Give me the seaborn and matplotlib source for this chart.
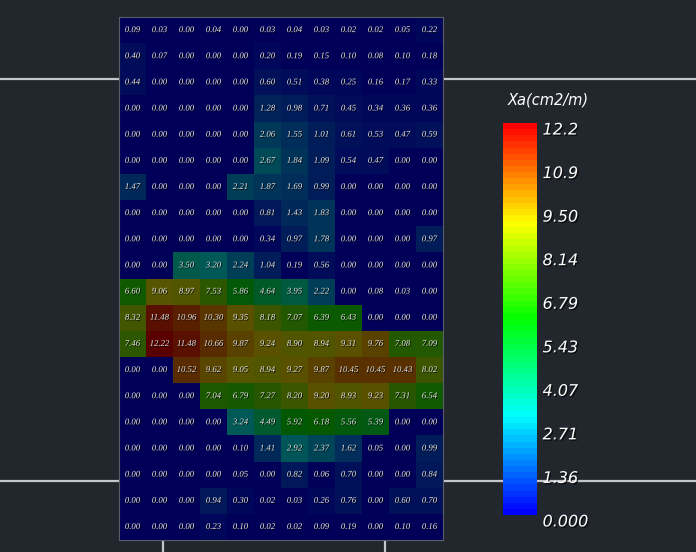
import numpy as np
import seaborn as sns
import matplotlib.pyplot as plt
import matplotlib.patheffects as pe
from matplotlib.colors import LinearSegmentedColormap, Normalize
from matplotlib.cm import ScalarMappable
from matplotlib.lines import Line2D

# Xa values, top row first, 12 columns
rows = [
    [0.09, 0.03, 0.00, 0.04, 0.00, 0.03, 0.04, 0.03, 0.02, 0.02, 0.05, 0.22],
    [0.40, 0.07, 0.00, 0.00, 0.00, 0.20, 0.19, 0.15, 0.10, 0.08, 0.10, 0.18],
    [0.44, 0.00, 0.00, 0.00, 0.00, 0.60, 0.51, 0.38, 0.25, 0.16, 0.17, 0.33],
    [0.00, 0.00, 0.00, 0.00, 0.00, 1.28, 0.98, 0.71, 0.45, 0.34, 0.36, 0.36],
    [0.00, 0.00, 0.00, 0.00, 0.00, 2.06, 1.55, 1.01, 0.61, 0.53, 0.47, 0.59],
    [0.00, 0.00, 0.00, 0.00, 0.00, 2.67, 1.84, 1.09, 0.54, 0.47, 0.00, 0.00],
    [1.47, 0.00, 0.00, 0.00, 2.21, 1.87, 1.69, 0.99, 0.00, 0.00, 0.00, 0.00],
    [0.00, 0.00, 0.00, 0.00, 0.00, 0.81, 1.43, 1.83, 0.00, 0.00, 0.00, 0.00],
    [0.00, 0.00, 0.00, 0.00, 0.00, 0.34, 0.97, 1.78, 0.00, 0.00, 0.00, 0.97],
    [0.00, 0.00, 3.50, 3.20, 2.24, 1.04, 0.19, 0.56, 0.00, 0.00, 0.00, 0.00],
    [6.60, 9.06, 8.97, 7.53, 5.86, 4.64, 3.95, 2.22, 0.00, 0.08, 0.03, 0.00],
    [8.32, 11.48, 10.96, 10.30, 9.35, 8.18, 7.07, 6.39, 6.43, 0.00, 0.00, 0.00],
    [7.46, 12.22, 11.48, 10.66, 9.87, 9.24, 8.90, 8.94, 9.31, 9.76, 7.08, 7.09],
    [0.00, 0.00, 10.52, 9.62, 9.05, 8.94, 9.27, 9.87, 10.45, 10.45, 10.43, 8.02],
    [0.00, 0.00, 0.00, 7.04, 6.79, 7.27, 8.20, 9.20, 8.93, 9.23, 7.31, 6.54],
    [0.00, 0.00, 0.00, 0.00, 3.24, 4.49, 5.92, 6.18, 5.56, 5.39, 0.00, 0.00],
    [0.00, 0.00, 0.00, 0.00, 0.10, 1.41, 2.92, 2.37, 1.62, 0.05, 0.00, 0.99],
    [0.00, 0.00, 0.00, 0.00, 0.05, 0.00, 0.82, 0.06, 0.70, 0.00, 0.00, 0.84],
    [0.00, 0.00, 0.00, 0.94, 0.30, 0.02, 0.03, 0.26, 0.76, 0.00, 0.60, 0.70],
    [0.00, 0.00, 0.00, 0.23, 0.10, 0.02, 0.02, 0.09, 0.19, 0.00, 0.10, 0.16],
]
vmin, vmax = 0.0, 12.215
cbar_ticks = [0.0, 1.357, 2.714, 4.072, 5.429, 6.786, 8.143, 9.501, 10.858, 12.215]
cbar_labels = ["0.000", "1.36", "2.71", "4.07", "5.43", "6.79", "8.14", "9.50", "10.9", "12.2"]
cbar_title = "Xa(cm2/m)"

bg = "#22262d"
rainbow = ["#0000ff", "#00ffff", "#00ff00", "#ffff00", "#ff0000"]
bright = LinearSegmentedColormap.from_list("rb", rainbow, N=64)
# cells in the scene are rendered shaded, so darken the same ramp
shade = 0.35
dark = LinearSegmentedColormap.from_list(
    "rb_dark", [tuple(c * shade for c in bright(i / 4)[:3]) for i in range(5)], N=64)

fig = plt.figure(figsize=(6.96, 5.52), dpi=100, facecolor=bg)
ax = fig.add_axes([0.171, 0.0217, 0.4655, 0.9475])
cax = fig.add_axes([0.7227, 0.067, 0.0489, 0.710])

data = np.array(rows)
sns.heatmap(data, ax=ax, cmap=dark, vmin=vmin, vmax=vmax, cbar=False,
            annot=True, fmt=".2f", xticklabels=False, yticklabels=False,
            annot_kws=dict(color="#e6e6e6", fontsize=6.3, family="Liberation Serif",
                           style="italic",
                           path_effects=[pe.SimplePatchShadow(offset=(0.6, -0.6),
                                                              shadow_rgbFace="black", alpha=0.9),
                                         pe.Normal()]))
ax.tick_params(length=0)
for s in ax.spines.values():
    s.set_visible(True)
    s.set_color("#5a5e66")
    s.set_linewidth(0.8)

sm = ScalarMappable(norm=Normalize(vmin, vmax), cmap=bright)
cb = fig.colorbar(sm, cax=cax)
cb.outline.set_visible(False)
cax.set_yticks([])
for v, lab in zip(cbar_ticks, cbar_labels):
    cax.annotate(lab, xy=(1.0, v), xycoords=("axes fraction", "data"),
                 xytext=(4, -5), textcoords="offset points", ha="left", va="center",
                 color="white", fontsize=11.5, style="italic", family="DejaVu Sans",
                 annotation_clip=False,
                 path_effects=[pe.SimplePatchShadow(offset=(1, -1), shadow_rgbFace="black",
                                                    alpha=0.7), pe.Normal()])
fig.text(0.7299, 0.818, cbar_title, color="white", fontsize=10.5, style="italic",
         family="DejaVu Sans", ha="left", va="center")

# scene axis lines around the plotted section
line_kw = dict(color="#c4c7cc", lw=1.6, transform=fig.transFigure, zorder=-1,
               solid_capstyle="round")
for y in [0.857, 0.1286]:
    fig.add_artist(Line2D([0.0, 0.171], [y, y], **line_kw))
    fig.add_artist(Line2D([0.6365, 1.0], [y, y], **line_kw))
for x in [0.234, 0.553]:
    fig.add_artist(Line2D([x, x], [0.0, 0.0217], **line_kw))

fig.savefig("out.png", dpi=100, facecolor=bg)
plt.close(fig)
